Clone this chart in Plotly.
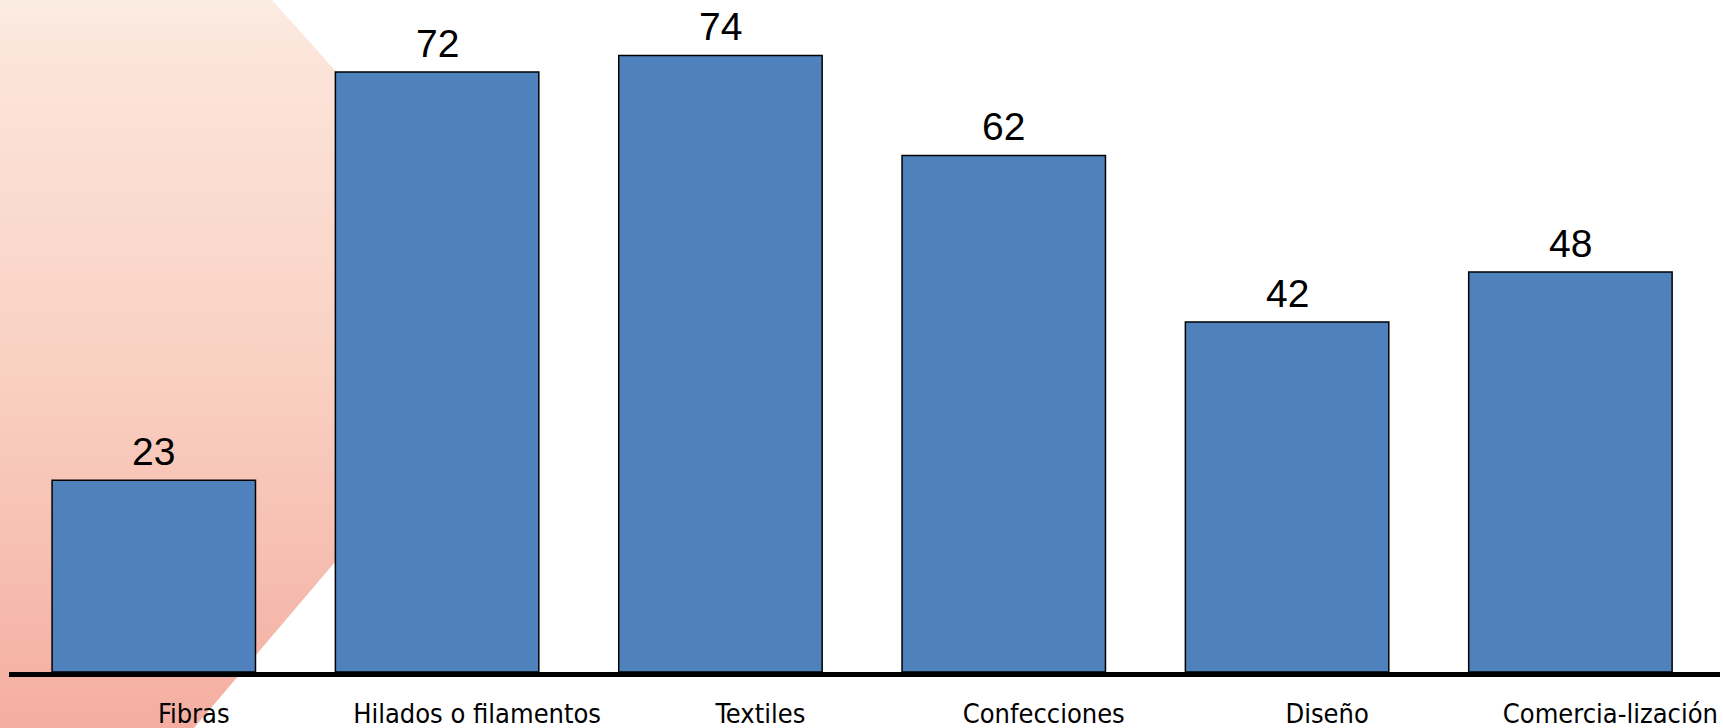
import plotly.graph_objects as go

W, H = 1723, 728

categories = ["Fibras", "Hilados o filamentos", "Textiles", "Confecciones", "Diseño", "Comercia-lización"]
values = [23, 72, 74, 62, 42, 48]

# decorative background shape (pixel coordinates from top-left)
bg_x = [0, 272, 520, 520, 335, 194, 0, 0]
bg_y = [0, 0, 277, 345, 562, 728, 728, 0]

fig = go.Figure()

# background gradient polygon on a full-paper axis pair
fig.add_trace(go.Scatter(
    x=bg_x, y=[H - v for v in bg_y], mode="lines", fill="toself",
    line=dict(width=0, color="rgba(0,0,0,0)"),
    fillgradient=dict(type="vertical",
                      colorscale=[[0, "#f4aea1"], [0.5, "#f9d1c3"], [0.92, "#fce4da"], [1, "#fbece1"]]),
    hoverinfo="skip", showlegend=False, xaxis="x", yaxis="y"))

fig.add_trace(go.Bar(
    x=categories, y=values, xaxis="x2", yaxis="y2",
    marker=dict(color="#4f81bd", line=dict(color="black", width=1.5)),
    showlegend=False))

for c, v in zip(categories, values):
    fig.add_annotation(x=c, y=v, xref="x2", yref="y2", text=str(v), showarrow=False,
                       yanchor="bottom", yshift=5,
                       font=dict(family="Liberation Sans, Arial", size=39, color="black"))

plot_bottom = 56
fig.update_layout(
    width=W, height=H,
    margin=dict(l=0, r=0, t=0, b=0),
    paper_bgcolor="white", plot_bgcolor="rgba(0,0,0,0)",
    bargap=0.282,
    xaxis=dict(domain=[0, 1], range=[0, W], visible=False, fixedrange=True),
    yaxis=dict(domain=[0, 1], range=[0, H], visible=False, fixedrange=True),
    xaxis2=dict(domain=[9 / W, 1720 / W], range=[-0.511, 5.528], anchor="y2",
                showline=True, linecolor="black", linewidth=5, ticks="",
                showgrid=False, zeroline=False, automargin=False,
                ticklabelshift=40, ticklabelstandoff=14,
                tickfont=dict(family="DejaVu Sans Condensed", size=27, color="black")),
    yaxis2=dict(domain=[plot_bottom / H, 1], range=[0, 80.65], anchor="x2",
                visible=False, showgrid=False, zeroline=False, automargin=False),
)

fig.write_html("out.html", config={"displayModeBar": False},
               post_script="document.body.style.margin='0';document.body.style.overflow='hidden';")
